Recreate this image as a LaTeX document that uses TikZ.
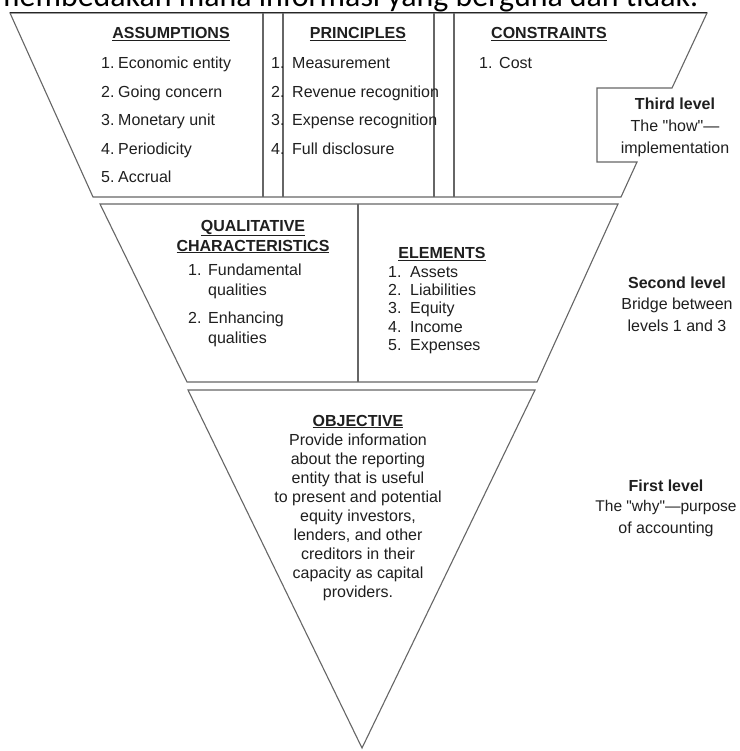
\documentclass[tikz,border=0pt]{standalone}
\usepackage{fontspec}
\setmainfont{Liberation Sans}
\newfontfamily\hdrfont{Carlito}
\newfontfamily\qfont{Liberation Sans}
\usepackage{graphicx}
\newcommand{\sq}{{\qfont\symbol{34}}}
\tikzset{
  frame/.style={draw=black!60, line width=1.1pt, line join=miter},
  txt/.style={font=\fontsize{16}{19}\selectfont, text=black!88, inner sep=0pt, anchor=base west},
  ctr/.style={txt, anchor=base},
  hdr/.style={txt, anchor=base, font=\fontsize{16}{19}\selectfont\bfseries},
}
\begin{document}
\begin{tikzpicture}[x=1pt,y=-1pt]
\fill[white] (0,0) rectangle (739,751);
\useasboundingbox (0,0) rectangle (739,751);

% cut-off line of text above the figure
\node[anchor=base west, inner sep=0pt] (cut) at (-6,7) {\resizebox{704pt}{!}{\hdrfont membedakan mana informasi yang berguna dan tidak.}};

% third level frame
\draw[frame] (10,13) -- (707,13) -- (672,88) -- (597,88) -- (597,162) -- (637,162) -- (621,197) -- (93,197) -- cycle;
\draw[black!85, line width=1pt] (10,13) -- (707,13);
\foreach \x in {263,283,434,454} \draw[frame] (\x,13) -- (\x,197);

% second level frame
\draw[frame] (100,204) -- (618,204) -- (537,382) -- (187,382) -- cycle;
\draw[frame] (358,204) -- (358,382);

% first level triangle
\draw[frame] (188,390) -- (535,390) -- (362,748) -- cycle;

% headers of third level
\node[hdr] (hA) at (171,39) {\underline{ASSUMPTIONS}};
\node[hdr] (hP) at (358,39) {\underline{PRINCIPLES}};
\node[hdr] (hC) at (549,39) {\underline{CONSTRAINTS}};

\foreach \n/\t/\y in {1/Economic entity/69, 2/Going concern/97.5, 3/Monetary unit/126, 4/Periodicity/154.5, 5/Accrual/183}{
  \node[txt] (an\n) at (101,\y) {\n.};
  \node[txt] (a\n) at (118,\y) {\t};
}
\foreach \n/\t/\y in {1/Measurement/69, 2/Revenue recognition/97.5, 3/Expense recognition/126, 4/Full disclosure/154.5}{
  \node[txt] (pn\n) at (271,\y) {\n.};
  \node[txt] (p\n) at (292,\y) {\t};
}
\node[txt] (cn1) at (479,69) {1.};
\node[txt] (c1) at (499,69) {Cost};

% third level label
\node[hdr] (L3a) at (675,110) {Third level};
\node[ctr] (L3b) at (675,131.5) {The \sq how\sq—};
\node[ctr] (L3c) at (675,153.5) {implementation};

% second level contents
\node[hdr] (hQ1) at (253,231) {\underline{QUALITATIVE}};
\node[hdr] (hQ2) at (253,251) {\underline{CHARACTERISTICS}};
\node[txt] (qn1) at (188,275.5) {1.};
\node[txt] (q1a) at (208,275.5) {Fundamental};
\node[txt] (q1b) at (208,295.5) {qualities};
\node[txt] (qn2) at (188,323.5) {2.};
\node[txt] (q2a) at (208,323.5) {Enhancing};
\node[txt] (q2b) at (208,343) {qualities};

\node[hdr] (hE) at (442,258.5) {\underline{ELEMENTS}};
\foreach \n/\t/\y in {1/Assets/277.5, 2/Liabilities/295.5, 3/Equity/313.5, 4/Income/332.5, 5/Expenses/350.5}{
  \node[txt] (en\n) at (388,\y) {\n.};
  \node[txt] (e\n) at (410,\y) {\t};
}

\node[hdr] (L2a) at (677,288) {Second level};
\node[ctr] (L2b) at (677,309) {Bridge between};
\node[ctr] (L2c) at (677,331) {levels 1 and 3};

% first level contents
\node[hdr] (hO) at (358,426) {\underline{OBJECTIVE}};
\node[ctr] (obj) at (358,445.5) {\begin{tabular}[t]{@{}c@{}}Provide information\\ about the reporting\\ entity that is useful\\ to present and potential\\ equity investors,\\ lenders, and other\\ creditors in their\\ capacity as capital\\ providers.\end{tabular}};

\node[hdr] (L1a) at (666,491) {First level};
\node[ctr] (L1b) at (666,511) {\fontsize{15.5}{19}\selectfont The \sq why\sq—purpose};
\node[ctr] (L1c) at (666,533) {of accounting};
\end{tikzpicture}
\end{document}
